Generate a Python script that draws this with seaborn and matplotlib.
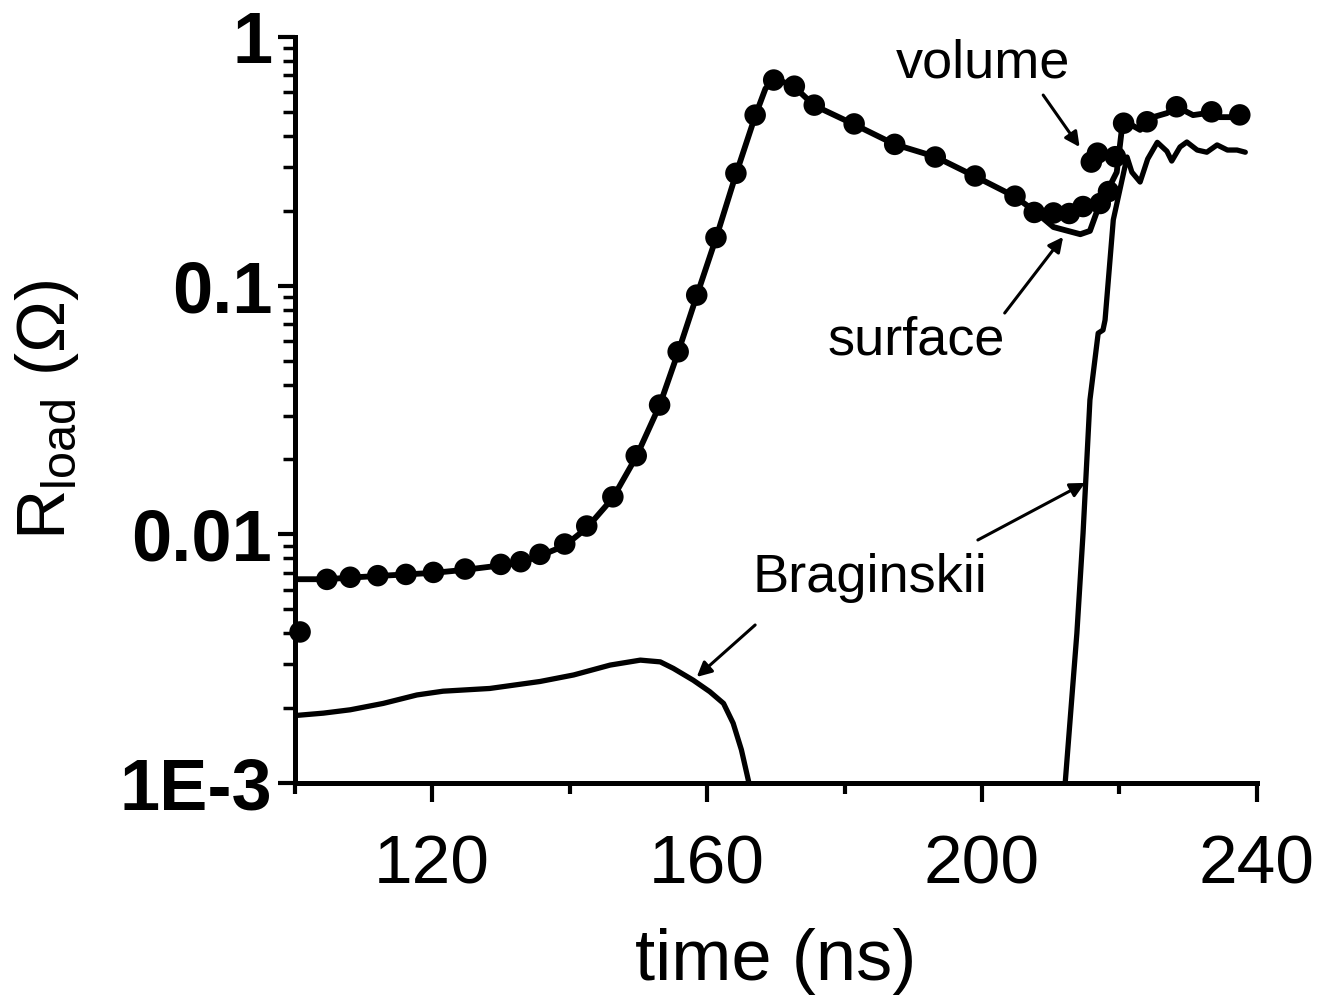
import numpy as np
import pandas as pd
import matplotlib
matplotlib.use("Agg")
import matplotlib.pyplot as plt
import seaborn as sns
from matplotlib.ticker import FixedLocator, LogLocator, NullFormatter, FixedFormatter

# ---------------- data ----------------
vol_t = [100.8, 104.7, 108.1, 112.1, 116.2, 120.2, 124.8, 130.0, 132.9, 135.7, 139.3,
         142.5, 146.3, 149.7, 153.1, 155.8, 158.5, 161.3, 164.2, 167.0, 169.7, 172.7,
         175.6, 181.4, 187.3, 193.2, 199.0, 204.8, 207.6, 210.4, 212.7, 214.7, 215.9,
         216.8, 217.2, 218.4, 219.4, 220.6, 224.0, 228.3, 233.4, 237.5]
vol_r = [0.00405, 0.00659, 0.00672, 0.00682, 0.0069, 0.00703, 0.00725, 0.00757, 0.00776,
         0.00831, 0.00914, 0.0108, 0.01415, 0.0207, 0.0331, 0.0542, 0.0916, 0.156, 0.283,
         0.485, 0.671, 0.634, 0.532, 0.447, 0.370, 0.329, 0.276, 0.229, 0.197, 0.196,
         0.195, 0.208, 0.314, 0.341, 0.214, 0.239, 0.330, 0.450, 0.456, 0.524, 0.500, 0.486]

surf_t = [100.4, 104.7, 108.1, 112.1, 116.2, 120.2, 124.8, 130.0, 132.9, 135.7, 139.3,
          142.5, 146.3, 149.7, 153.1, 155.8, 158.5, 161.3, 164.2, 167.0, 168.5, 170.0,
          172.7, 175.6, 181.4, 187.3, 193.2, 199.0, 204.8, 207.6, 210.4, 214.3, 215.7,
          216.7, 219.6, 220.5, 223.0, 224.9, 226.9, 228.4, 230.7, 232.7, 234.6, 237.5]
surf_r = [0.0066, 0.0066, 0.0067, 0.0068, 0.0069, 0.0070, 0.0072, 0.0075, 0.0077, 0.0082,
          0.0090, 0.0106, 0.0140, 0.0205, 0.033, 0.054, 0.091, 0.155, 0.28, 0.48, 0.62,
          0.68, 0.63, 0.53, 0.445, 0.37, 0.33, 0.275, 0.228, 0.20, 0.172, 0.161, 0.166,
          0.198, 0.286, 0.463, 0.423, 0.476, 0.494, 0.523, 0.485, 0.494, 0.476, 0.476]

brag1_t = [100.3, 104.2, 108.1, 112.9, 117.8, 121.6, 128.4, 135.7, 140.6, 145.9, 150.3,
           153.2, 155.1, 158.0, 160.4, 162.4, 163.8, 165.0, 166.1]
brag1_r = [0.00187, 0.00191, 0.00197, 0.00209, 0.00226, 0.00234, 0.00240, 0.00256, 0.00272,
           0.00298, 0.00312, 0.00307, 0.00289, 0.00259, 0.00233, 0.00209, 0.00174, 0.00136,
           0.00100]

brag2_t = [212.1, 213.8, 214.7, 215.7, 216.9, 217.6, 217.9, 219.1, 221.1, 221.8, 223.0,
           224.1, 225.5, 226.9, 227.6, 228.8, 229.8, 231.3, 232.7, 234.2, 235.7, 237.1, 238.3]
brag2_r = [0.00100, 0.0040, 0.0101, 0.0347, 0.0644, 0.0663, 0.0727, 0.184, 0.329, 0.286,
           0.261, 0.323, 0.377, 0.347, 0.317, 0.361, 0.378, 0.351, 0.344, 0.368, 0.351,
           0.351, 0.344]

x_major = [120, 160, 200, 240]
x_minor = [100, 140, 180, 220]
y_major = [1e-3, 1e-2, 1e-1, 1]
y_labels = ["1E-3", "0.01", "0.1", "1"]

# ---------------- style ----------------
sns.set_style("ticks")
plt.rcParams["font.family"] = ["Liberation Sans", "DejaVu Sans"]
plt.rcParams["mathtext.fontset"] = "custom"
plt.rcParams["mathtext.rm"] = "Liberation Sans"
plt.rcParams["text.color"] = "black"
plt.rcParams["axes.labelcolor"] = "black"
plt.rcParams["xtick.color"] = "black"
plt.rcParams["ytick.color"] = "black"

fig = plt.figure(figsize=(13.18, 9.99), dpi=100)
ax = fig.add_axes([0.2235, 0.2162, 0.7302, 0.7468])

surf_df = pd.DataFrame({"t": surf_t, "R": surf_r})
vol_df = pd.DataFrame({"t": vol_t, "R": vol_r})
b1_df = pd.DataFrame({"t": brag1_t, "R": brag1_r})
b2_df = pd.DataFrame({"t": brag2_t, "R": brag2_r})

sns.lineplot(data=surf_df, x="t", y="R", ax=ax, color="black", lw=4.2, sort=False,
             estimator=None)
sns.lineplot(data=b1_df, x="t", y="R", ax=ax, color="black", lw=3.8, sort=False,
             estimator=None)
sns.lineplot(data=b2_df, x="t", y="R", ax=ax, color="black", lw=3.8, sort=False,
             estimator=None)
sns.scatterplot(data=vol_df, x="t", y="R", ax=ax, color="black", s=240, edgecolor="none",
                zorder=5, clip_on=False)

ax.set_yscale("log")
ax.set_xlim(100, 240)
ax.set_ylim(1e-3, 1)

ax.xaxis.set_major_locator(FixedLocator(x_major))
ax.xaxis.set_minor_locator(FixedLocator(x_minor))
ax.yaxis.set_major_locator(FixedLocator(y_major))
ax.yaxis.set_major_formatter(FixedFormatter(y_labels))
ax.yaxis.set_minor_locator(LogLocator(base=10, subs=np.arange(2, 10)))
ax.yaxis.set_minor_formatter(NullFormatter())

for s in ["top", "right"]:
    ax.spines[s].set_visible(False)
for s in ["left", "bottom"]:
    ax.spines[s].set_linewidth(3.6)
    ax.spines[s].set_color("black")

ax.tick_params(axis="x", which="major", direction="out", length=14, width=3, pad=22,
               labelsize=50, colors="black")
ax.tick_params(axis="x", which="minor", direction="out", length=8, width=3)
ax.tick_params(axis="y", which="major", direction="out", length=12, width=3, pad=4,
               labelsize=52, colors="black")
ax.tick_params(axis="y", which="minor", direction="out", length=9, width=2.5)
for lab in ax.get_yticklabels():
    lab.set_fontweight("bold")

ax.set_xlabel("time (ns)", fontsize=52, labelpad=22, color="black")
ax.set_ylabel(r"R$_{\mathregular{load}}$ (Ω)", fontsize=50, labelpad=28, color="black")

arrow = dict(arrowstyle="-|>", color="black", lw=2.2, mutation_scale=22, shrinkA=0,
             shrinkB=0)
ax.text(200.1, 0.785, "volume", fontsize=39, ha="center", va="center", color="black")
ax.annotate("", xy=(214.2, 0.361), xytext=(208.9, 0.584), arrowprops=arrow)
ax.text(190.4, 0.0604, "surface", fontsize=39, ha="center", va="center", color="black")
ax.annotate("", xy=(211.8, 0.157), xytext=(203.3, 0.0776), arrowprops=arrow)
ax.text(183.7, 0.00668, "Braginskii", fontsize=39, ha="center", va="center", color="black")
ax.annotate("", xy=(158.5, 0.00267), xytext=(167.0, 0.00432), arrowprops=arrow)
ax.annotate("", xy=(215.0, 0.0161), xytext=(199.4, 0.00949), arrowprops=arrow)

fig.savefig("out.png", dpi=100, facecolor="white")
